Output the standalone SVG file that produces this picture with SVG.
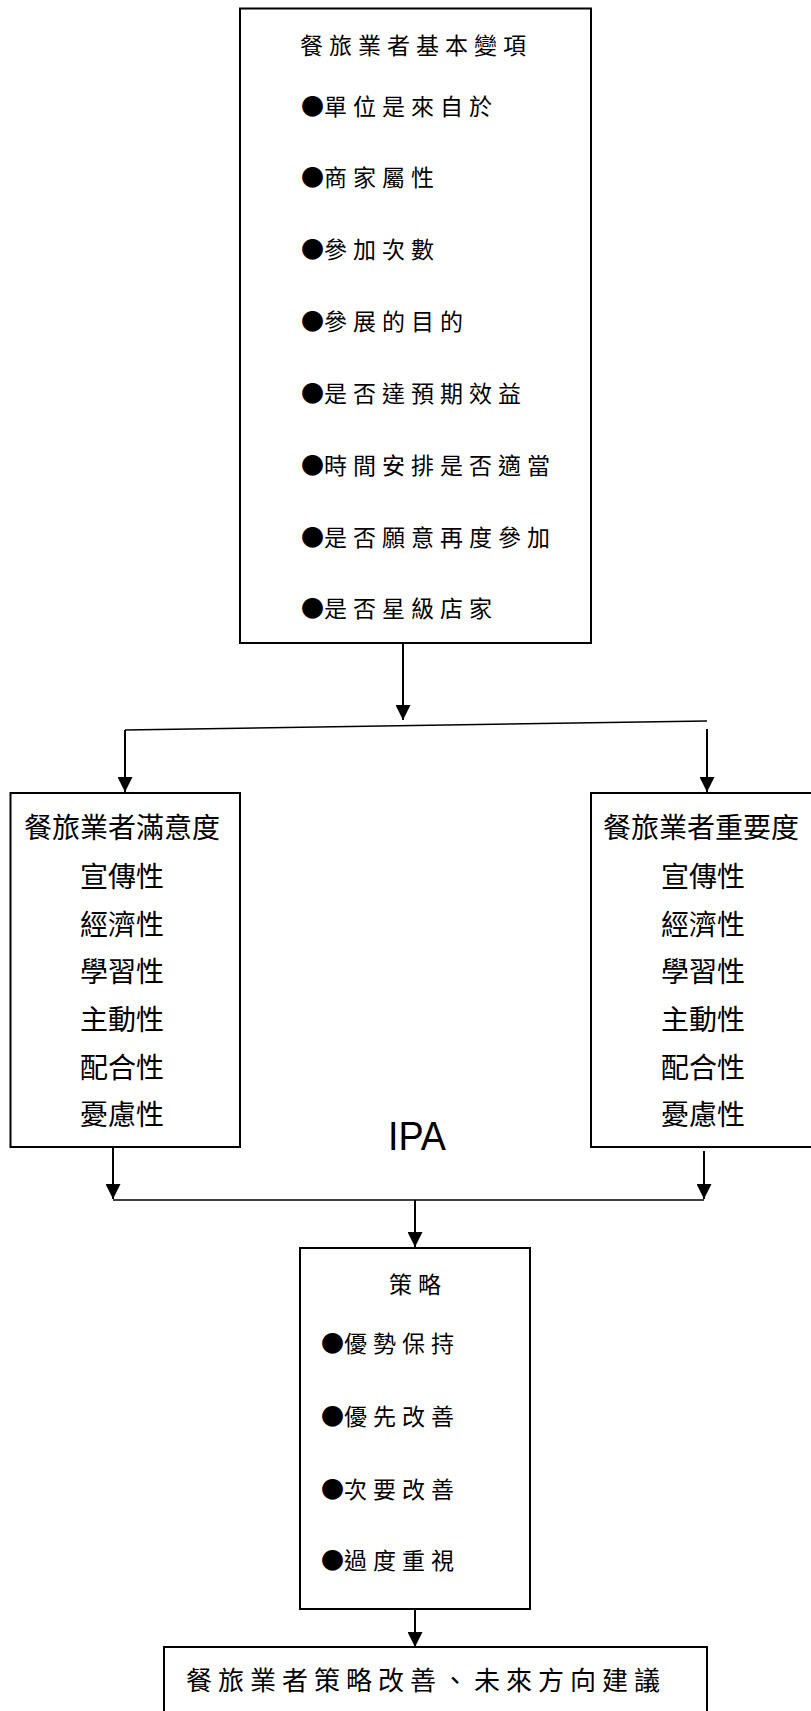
<svg xmlns="http://www.w3.org/2000/svg" width="811" height="1711" viewBox="0 0 811 1711">
<style>
.box{fill:#fff;stroke:#000;stroke-width:2}
.ln{fill:none;stroke:#000;stroke-width:2}
.hl{fill:none;stroke:#000;stroke-width:1.5}
.t{font-family:"Noto Sans CJK TC","Noto Sans CJK SC",sans-serif;fill:#000}
.b{font-size:23px;letter-spacing:6px}
.bu{letter-spacing:0}
.s{font-size:28px;text-anchor:middle}
.f{font-size:26px;letter-spacing:6px}
.ipa{font-family:"Liberation Sans",Arial,sans-serif;font-size:40px;fill:#000}
</style>
<defs>
<marker id="ah" viewBox="0 0 15 15" refX="15" refY="7.5" markerWidth="15" markerHeight="15" markerUnits="userSpaceOnUse" orient="auto">
<path d="M0,0 L15,7.5 L0,15 z" fill="#000"/>
</marker>
</defs>
<rect width="811" height="1711" fill="#fff"/>

<g id="connectors">
<line class="ln" x1="403" y1="643" x2="403" y2="720" marker-end="url(#ah)"/>
<line class="hl" x1="125" y1="730" x2="707" y2="721"/>
<line class="ln" x1="125" y1="730" x2="125" y2="792" marker-end="url(#ah)"/>
<line class="ln" x1="707" y1="729" x2="707" y2="792" marker-end="url(#ah)"/>
<line class="ln" x1="113" y1="1147" x2="113" y2="1199" marker-end="url(#ah)"/>
<line class="ln" x1="704" y1="1151" x2="704" y2="1199" marker-end="url(#ah)"/>
<line class="hl" x1="113" y1="1200" x2="704" y2="1200"/>
<line class="ln" x1="415" y1="1200" x2="415" y2="1247" marker-end="url(#ah)"/>
<line class="ln" x1="415" y1="1609" x2="415" y2="1647" marker-end="url(#ah)"/>
</g>

<g id="basic">
<rect class="box" x="240" y="8.5" width="351" height="634.5"/>
<text class="t b" x="300" y="53.7">餐旅業者基本變項</text>
<text class="t b" x="301" y="114.7"><tspan class="bu">●</tspan>單位是來自於</text>
<text class="t b" x="301" y="185.7"><tspan class="bu">●</tspan>商家屬性</text>
<text class="t b" x="301" y="257.7"><tspan class="bu">●</tspan>參加次數</text>
<text class="t b" x="301" y="329.7"><tspan class="bu">●</tspan>參展的目的</text>
<text class="t b" x="301" y="401.7"><tspan class="bu">●</tspan>是否達預期效益</text>
<text class="t b" x="301" y="473.7"><tspan class="bu">●</tspan>時間安排是否適當</text>
<text class="t b" x="301" y="545.7"><tspan class="bu">●</tspan>是否願意再度參加</text>
<text class="t b" x="301" y="616.7"><tspan class="bu">●</tspan>是否星級店家</text>
</g>

<g id="satisfaction">
<rect class="box" x="10.5" y="793" width="229.5" height="354"/>
<text class="t s" x="122" y="838">餐旅業者滿意度</text>
<text class="t s" x="122" y="887.3">宣傳性</text>
<text class="t s" x="122" y="934.6">經濟性</text>
<text class="t s" x="122" y="982">學習性</text>
<text class="t s" x="122" y="1029.6">主動性</text>
<text class="t s" x="122" y="1077.6">配合性</text>
<text class="t s" x="122" y="1125">憂慮性</text>
</g>

<g id="importance">
<rect class="box" x="591" y="793" width="240" height="354"/>
<text class="t s" x="701" y="838">餐旅業者重要度</text>
<text class="t s" x="703" y="887.3">宣傳性</text>
<text class="t s" x="703" y="934.6">經濟性</text>
<text class="t s" x="703" y="982">學習性</text>
<text class="t s" x="703" y="1029.6">主動性</text>
<text class="t s" x="703" y="1077.6">配合性</text>
<text class="t s" x="703" y="1125">憂慮性</text>
</g>

<g id="ipa">
<text class="ipa" x="388" y="1150" textLength="58" lengthAdjust="spacingAndGlyphs">IPA</text>
</g>

<g id="strategy">
<rect class="box" x="300" y="1248" width="230" height="361"/>
<text class="t b" x="418" y="1293" text-anchor="middle">策略</text>
<text class="t b" x="321" y="1352"><tspan class="bu">●</tspan>優勢保持</text>
<text class="t b" x="321" y="1425"><tspan class="bu">●</tspan>優先改善</text>
<text class="t b" x="321" y="1497.7"><tspan class="bu">●</tspan>次要改善</text>
<text class="t b" x="321" y="1569"><tspan class="bu">●</tspan>過度重視</text>
</g>

<g id="suggestion">
<rect class="box" x="164" y="1647" width="543" height="80"/>
<text class="t f" x="186" y="1690">餐旅業者策略改善、未來方向建議</text>
</g>
</svg>
